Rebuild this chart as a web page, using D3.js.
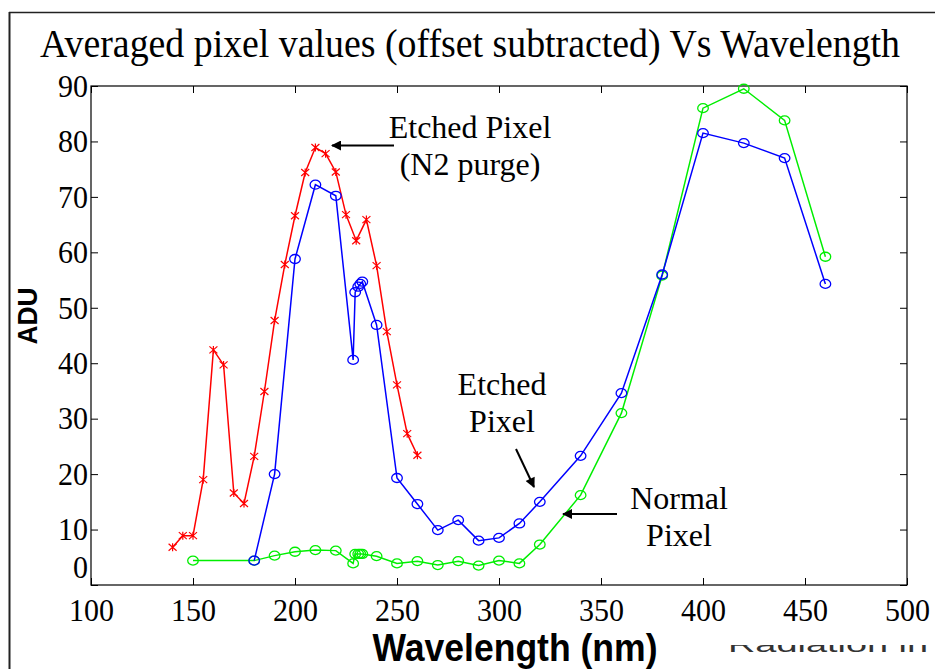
<!DOCTYPE html>
<html>
<head>
<meta charset="utf-8">
<script src="https://cdn.jsdelivr.net/npm/d3@7"></script>
<style>
  body { margin: 0; background: #fff; }
  svg { display: block; }
  .tick-lab { font-family: "Liberation Serif", "Times New Roman", serif; font-size: 32px; fill: #000; }
  .note { font-family: "Liberation Serif", "Times New Roman", serif; font-size: 32px; fill: #000; }
</style>
</head>
<body>
<div id="chart-area"></div>
<script>
// data
let redX = [140, 145, 150, 155, 160, 165, 170, 175, 180, 185, 190, 195, 200, 205, 210, 215, 220, 225, 230, 235, 240, 245, 250, 255, 260];
let redY = [6.8, 8.9, 8.9, 19.0, 42.4, 39.7, 16.6, 14.7, 23.2, 34.9, 47.7, 57.8, 66.6, 74.4, 78.9, 77.8, 74.5, 66.8, 62.1, 65.9, 57.6, 45.7, 36.1, 27.3, 23.4];

let blueX = [180, 190, 200, 210, 220, 228.5, 229.5, 231, 232, 233, 240, 250, 260, 270, 280, 290, 300, 310, 320, 340, 360, 380, 400, 420, 440, 460];
let blueY = [4.4, 20.0, 58.8, 72.2, 70.2, 40.6, 52.8, 53.8, 54.3, 54.7, 46.9, 19.3, 14.6, 9.9, 11.7, 8.0, 8.5, 11.1, 15.0, 23.3, 34.6, 56.0, 81.5, 79.7, 77.0, 54.3];

let greenX = [150, 180, 190, 200, 210, 220, 228.5, 229.5, 231, 232, 233, 240, 250, 260, 270, 280, 290, 300, 310, 320, 340, 360, 380, 400, 420, 440, 460];
let greenY = [4.4, 4.4, 5.3, 6.0, 6.3, 6.2, 3.9, 5.6, 5.6, 5.6, 5.6, 5.2, 3.9, 4.3, 3.6, 4.3, 3.5, 4.4, 3.9, 7.3, 16.2, 31.0, 55.8, 86.0, 89.5, 83.8, 59.2];

let xTicks = [100, 150, 200, 250, 300, 350, 400, 450, 500];
let yTicks = [0, 10, 20, 30, 40, 50, 60, 70, 80, 90];

let titleText = "Averaged pixel values (offset subtracted) Vs Wavelength";

let fullW = 935, fullH = 669;
let margin = {top: 86, right: 28, bottom: 84, left: 91};
let width = fullW - margin.left - margin.right;
let height = fullH - margin.top - margin.bottom;

let root = d3.select("#chart-area").append("svg")
    .attr("width", fullW)
    .attr("height", fullH);

// outer frame (cropped figure edge)
root.append("line").attr("x1", 9.5).attr("x2", 9.5).attr("y1", 12).attr("y2", fullH)
    .attr("stroke", "#222").attr("stroke-width", 2);
root.append("line").attr("x1", 9).attr("x2", fullW).attr("y1", 12.5).attr("y2", 12.5)
    .attr("stroke", "#222").attr("stroke-width", 1.5);

root.append("text")
    .attr("x", 470)
    .attr("y", 57)
    .attr("text-anchor", "middle")
    .attr("textLength", 860)
    .attr("lengthAdjust", "spacingAndGlyphs")
    .style("font-family", "'Liberation Serif', 'Times New Roman', serif")
    .style("font-size", "39px")
    .text(titleText);

let svg = root.append("g")
    .attr("transform", "translate(" + margin.left + "," + margin.top + ")");

let xScale = d3.scaleLinear().domain([100, 500]).range([0, width]);
let yScale = d3.scaleLinear().domain([0, 90]).range([height, 0]);

// axes, ticks pointing inwards like matlab
let xAxis = d3.axisBottom(xScale).tickValues(xTicks).tickSizeInner(-7).tickSizeOuter(0).tickPadding(13);
let yAxis = d3.axisLeft(yScale).tickValues(yTicks).tickSizeInner(-7).tickSizeOuter(0).tickPadding(3);
let xTop = d3.axisTop(xScale).tickValues(xTicks).tickSizeInner(-7).tickSizeOuter(0).tickFormat("");
let yRight = d3.axisRight(yScale).tickValues(yTicks).tickSizeInner(-7).tickSizeOuter(0).tickFormat("");

let gx = svg.append("g").attr("transform", "translate(0," + height + ")").call(xAxis);
let gy = svg.append("g").call(yAxis);
svg.append("g").call(xTop);
svg.append("g").attr("transform", "translate(" + width + ",0)").call(yRight);

svg.selectAll(".domain").remove();
svg.selectAll(".tick line").attr("stroke", "#000");
[gx, gy].forEach(g => g.selectAll("text")
    .attr("class", "tick-lab")
    .attr("font-size", null)
    .attr("font-family", null)
    .attr("lengthAdjust", "spacingAndGlyphs")
    .attr("textLength", d => 15 * String(d).length));
// the 0 label sits higher than its tick in the original
gy.selectAll(".tick").filter(d => d === 0).select("text").attr("dy", "-0.22em");

svg.append("rect")
    .attr("width", width)
    .attr("height", height)
    .attr("fill", "none")
    .attr("stroke", "#000")
    .attr("stroke-width", 1.2);

// axis titles
root.append("text")
    .attr("x", 515)
    .attr("y", 661)
    .attr("text-anchor", "middle")
    .attr("textLength", 285)
    .attr("lengthAdjust", "spacingAndGlyphs")
    .style("font-family", "'Liberation Sans', Arial, sans-serif")
    .style("font-weight", "bold")
    .style("font-size", "38px")
    .text("Wavelength (nm)");

root.append("text")
    .attr("transform", "translate(37,316) rotate(-90)")
    .attr("text-anchor", "middle")
    .attr("textLength", 57)
    .attr("lengthAdjust", "spacingAndGlyphs")
    .style("font-family", "'Liberation Sans', Arial, sans-serif")
    .style("font-weight", "bold")
    .style("font-size", "27px")
    .text("ADU");

// cut-off text at the lower right edge of the figure
root.append("clipPath").attr("id", "cut")
    .append("rect").attr("x", 720).attr("y", 645).attr("width", 215).attr("height", 8);
root.append("text")
    .attr("x", 728)
    .attr("y", 652)
    .attr("textLength", 200)
    .attr("lengthAdjust", "spacingAndGlyphs")
    .attr("clip-path", "url(#cut)")
    .style("font-family", "'Liberation Sans', Arial, sans-serif")
    .style("font-size", "22px")
    .style("fill", "#333")
    .text("Radiation in");

let line = d3.line()
    .x(d => xScale(d[0]))
    .y(d => yScale(d[1]));

function drawSeries(xs, ys, color, marker) {
    let pts = xs.map((x, i) => [x, ys[i]]);
    svg.append("path")
        .datum(pts)
        .attr("d", line)
        .attr("fill", "none")
        .attr("stroke", color)
        .attr("stroke-width", 1.5);
    if (marker === "o") {
        svg.selectAll(null)
            .data(pts)
            .enter()
            .append("ellipse")
            .attr("cx", d => xScale(d[0]))
            .attr("cy", d => yScale(d[1]))
            .attr("rx", 5.3)
            .attr("ry", 4.5)
            .attr("fill", "none")
            .attr("stroke", color)
            .attr("stroke-width", 1.3);
    } else {
        svg.selectAll(null)
            .data(pts)
            .enter()
            .append("path")
            .attr("transform", d => "translate(" + xScale(d[0]) + "," + yScale(d[1]) + ")")
            .attr("d", "M-4,-3.5L4,3.5M-4,3.5L4,-3.5M0,-4L0,4")
            .attr("fill", "none")
            .attr("stroke", color)
            .attr("stroke-width", 1.2);
    }
}

drawSeries(greenX, greenY, "#00ee00", "o");
drawSeries(redX, redY, "#ff0000", "*");
drawSeries(blueX, blueY, "#0000ff", "o");

// annotations
root.append("defs").append("marker")
    .attr("id", "head")
    .attr("viewBox", "0 0 10 10")
    .attr("refX", 9).attr("refY", 5)
    .attr("markerWidth", 12).attr("markerHeight", 10)
    .attr("markerUnits", "userSpaceOnUse")
    .attr("orient", "auto")
    .append("path").attr("d", "M0,0L10,5L0,10Z").attr("fill", "#000");

let notes = [
    {lines: ["Etched Pixel", "(N2 purge)"], x: 470, y: 138, arrow: [394, 145.5, 332, 145.5]},
    {lines: ["Etched", "Pixel"], x: 502, y: 395, arrow: [516, 449, 534, 487]},
    {lines: ["Normal", "Pixel"], x: 679, y: 509, arrow: [617, 514, 563, 514]}
];

notes.forEach(n => {
    n.lines.forEach((t, i) => {
        root.append("text")
            .attr("class", "note")
            .attr("x", n.x)
            .attr("y", n.y + i * 37)
            .attr("text-anchor", "middle")
            .text(t);
    });
    root.append("line")
        .attr("x1", n.arrow[0]).attr("y1", n.arrow[1])
        .attr("x2", n.arrow[2]).attr("y2", n.arrow[3])
        .attr("stroke", "#000")
        .attr("stroke-width", 2)
        .attr("marker-end", "url(#head)");
});
</script>
</body>
</html>
